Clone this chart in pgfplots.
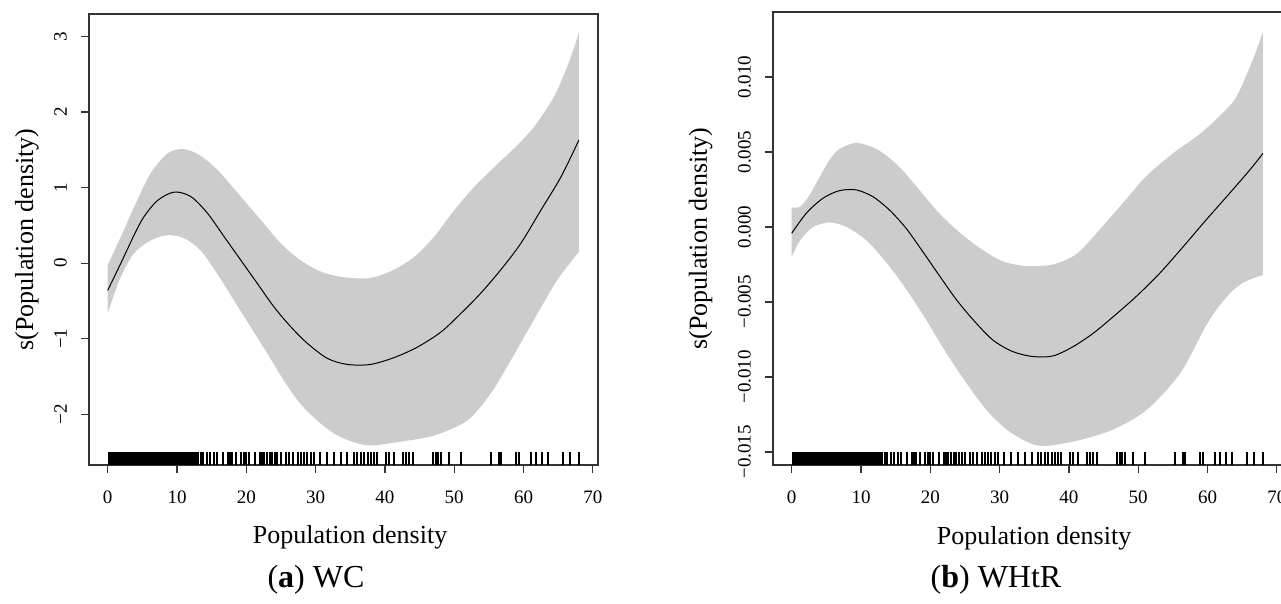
\documentclass[border=0pt]{standalone}
\usepackage{pgfplots}
\pgfplotsset{compat=1.18}
\usepgfplotslibrary{fillbetween}
\usepackage{pgfplotstable}
\usepackage{fontspec}
\setmainfont{Liberation Serif}

\definecolor{band}{RGB}{204,204,204}

% (a) WC: fitted smooth and confidence band
\pgfplotstableread{
x y
0 -0.36
1.9 0.0
3.8 0.37
5.2 0.61
7.2 0.83
9.6 0.94
12.0 0.88
14.4 0.66
16.8 0.35
19.2 0.04
21.6 -0.27
24.0 -0.58
26.4 -0.84
28.8 -1.06
31.7 -1.26
34.6 -1.34
37.9 -1.34
41.3 -1.25
44.7 -1.11
48.1 -0.91
50.9 -0.67
53.8 -0.40
56.7 -0.09
59.6 0.26
62.5 0.70
65.4 1.14
68.0 1.63
}\wcfit
\pgfplotstableread{
x y
0 -0.03
1.9 0.35
3.8 0.74
6.2 1.19
8.6 1.45
10.6 1.51
12.4 1.47
14.3 1.36
16.3 1.19
19.2 0.88
22.1 0.57
25.0 0.26
27.8 0.04
30.7 -0.11
33.6 -0.18
37.5 -0.20
40.8 -0.11
44.2 0.08
47.1 0.35
50.0 0.70
52.9 1.01
56.0 1.29
59.0 1.55
61.5 1.80
64.4 2.20
66.3 2.60
67.3 2.85
68.0 3.05
}\wcup
\pgfplotstableread{
x y
0 -0.66
1.9 -0.18
3.8 0.13
6.2 0.30
8.6 0.37
11.0 0.33
13.4 0.17
15.8 -0.14
18.2 -0.49
20.6 -0.84
23.0 -1.19
25.4 -1.55
27.8 -1.86
30.7 -2.12
33.6 -2.30
37.5 -2.41
42.3 -2.36
47.1 -2.28
51.9 -2.08
55.3 -1.72
58.2 -1.28
61.5 -0.75
64.9 -0.22
68.0 0.15
}\wclo

% (b) WHtR
\pgfplotstableread{
x y
0 -0.00042
2.1 0.00091
4.5 0.00191
6.9 0.00242
9.3 0.00247
11.7 0.00202
14.1 0.00113
16.5 -0.00009
18.9 -0.00164
21.4 -0.00331
23.8 -0.00487
26.2 -0.0062
29.0 -0.00753
31.9 -0.00831
34.8 -0.00864
37.7 -0.0086
40.6 -0.00798
43.5 -0.00709
46.4 -0.00598
49.7 -0.00464
53.1 -0.00309
56.5 -0.00131
59.8 0.00047
63.2 0.00225
66.1 0.0038
68.0 0.0049
}\whfit
\pgfplotstableread{
x y
0 0.00130
1.2 0.00135
2.4 0.0020
4.0 0.0033
5.5 0.0045
6.9 0.0052
9.3 0.0056
12.2 0.0052
15.1 0.0042
18.0 0.0027
20.9 0.0011
23.8 -0.0002
27.1 -0.0014
30.5 -0.0023
33.9 -0.0026
37.7 -0.0025
41.1 -0.0018
44.4 -0.0002
47.8 0.0016
51.2 0.0034
55.0 0.0049
58.9 0.0062
62.2 0.0076
64.2 0.0087
66.5 0.0111
68.0 0.0130
}\whup
\pgfplotstableread{
x y
0 -0.0020
1.2 -0.0009
3.1 0.0000
5.5 0.0003
7.9 0.0000
10.8 -0.0009
13.7 -0.0024
16.6 -0.0042
19.4 -0.0062
22.3 -0.0084
25.2 -0.0104
28.1 -0.0122
31.0 -0.0135
34.3 -0.0144
36.8 -0.0146
41.6 -0.0142
46.4 -0.0135
51.2 -0.0122
56.0 -0.0098
59.4 -0.0069
61.0 -0.0057
62.5 -0.0048
64.0 -0.0041
65.6 -0.0036
68.0 -0.0032
}\whlo

% rug of observed densities (x), with the mid height of the rug in each panel
\pgfplotstableread{
x wc wh
13.4 -2.584 -0.01544
13.8 -2.584 -0.01544
14.3 -2.584 -0.01544
14.8 -2.584 -0.01544
15.3 -2.584 -0.01544
15.8 -2.584 -0.01544
16.7 -2.584 -0.01544
17.3 -2.584 -0.01544
17.6 -2.584 -0.01544
18.0 -2.584 -0.01544
18.5 -2.584 -0.01544
19.2 -2.584 -0.01544
19.7 -2.584 -0.01544
20.0 -2.584 -0.01544
20.4 -2.584 -0.01544
21.3 -2.584 -0.01544
22.0 -2.584 -0.01544
22.3 -2.584 -0.01544
22.6 -2.584 -0.01544
23.0 -2.584 -0.01544
23.4 -2.584 -0.01544
23.7 -2.584 -0.01544
24.1 -2.584 -0.01544
24.5 -2.584 -0.01544
25.0 -2.584 -0.01544
25.7 -2.584 -0.01544
26.2 -2.584 -0.01544
26.7 -2.584 -0.01544
27.4 -2.584 -0.01544
27.9 -2.584 -0.01544
28.3 -2.584 -0.01544
28.8 -2.584 -0.01544
29.4 -2.584 -0.01544
29.8 -2.584 -0.01544
30.7 -2.584 -0.01544
31.7 -2.584 -0.01544
32.7 -2.584 -0.01544
33.6 -2.584 -0.01544
34.6 -2.584 -0.01544
35.6 -2.584 -0.01544
36.0 -2.584 -0.01544
36.5 -2.584 -0.01544
37.0 -2.584 -0.01544
37.5 -2.584 -0.01544
38.0 -2.584 -0.01544
38.4 -2.584 -0.01544
38.9 -2.584 -0.01544
40.1 -2.584 -0.01544
40.6 -2.584 -0.01544
41.3 -2.584 -0.01544
42.6 -2.584 -0.01544
43.0 -2.584 -0.01544
43.5 -2.584 -0.01544
44.0 -2.584 -0.01544
46.9 -2.584 -0.01544
47.4 -2.584 -0.01544
47.7 -2.584 -0.01544
48.1 -2.584 -0.01544
49.3 -2.584 -0.01544
51.0 -2.584 -0.01544
55.3 -2.584 -0.01544
56.5 -2.584 -0.01544
56.8 -2.584 -0.01544
58.9 -2.584 -0.01544
59.4 -2.584 -0.01544
61.1 -2.584 -0.01544
61.8 -2.584 -0.01544
62.6 -2.584 -0.01544
63.5 -2.584 -0.01544
65.7 -2.584 -0.01544
66.7 -2.584 -0.01544
68.0 -2.584 -0.01544
}\rug

\pgfplotsset{gamplot/.style={
  scale only axis, anchor=south west, width=509pt,
  xmin=-2.7, xmax=70.75,
  tick pos=left, tick align=outside,
  major tick length=8pt,
  scaled y ticks=false,
  axis line style={line width=1.2pt, black!80},
  every tick/.style={line width=1.2pt, black!80},
  xtick={0,10,...,70}, xticklabels={0,10,20,30,40,50,60,70},
  tick label style={font=\fontsize{19}{21}\selectfont, inner sep=0pt},
  xticklabel shift=18pt,
  yticklabel style={rotate=90, anchor=south},
  yticklabel shift=14pt,
  label style={font=\fontsize{26}{30}\selectfont},
  xlabel={Population density},
  ylabel={s(Population density)},
  xlabel style={at={(axis description cs:0.513,-0.175)}, anchor=base},
  clip=false,
}}

\begin{document}
\begin{tikzpicture}
\begin{axis}[gamplot, at={(89pt,139pt)}, height=451pt,
  ymin=-2.67, ymax=3.296,
  ytick={-2,-1,0,1,2,3}, yticklabels={−2,−1,0,1,2,3},
  ylabel style={at={(axis description cs:-0.110,0.5)}, anchor=base}]
\addplot[name path=U, draw=none, smooth] table[x=x, y=y] {\wcup};
\addplot[name path=L, draw=none, smooth] table[x=x, y=y] {\wclo};
\addplot[band] fill between[of=U and L];
\addplot[fill=black, draw=none] coordinates {(0,-2.67) (13.2,-2.67) (13.2,-2.498) (0,-2.498)} --cycle;
\addplot[only marks, mark=|, mark size=6.5pt, mark options={line width=2pt, black}] table[x=x, y=wc] {\rug};
\addplot[black, line width=1pt, smooth] table[x=x, y=y] {\wcfit};
\end{axis}

\begin{axis}[gamplot, at={(773pt,139pt)}, height=453pt,
  ymin=-0.01587, ymax=0.01433,
  ytick={-0.015,-0.01,-0.005,0,0.005,0.01},
  yticklabels={−0.015,−0.010,−0.005,0.000,0.005,0.010},
  ylabel style={at={(axis description cs:-0.130,0.5)}, anchor=base}]
\addplot[name path=U2, draw=none, smooth] table[x=x, y=y] {\whup};
\addplot[name path=L2, draw=none, smooth] table[x=x, y=y] {\whlo};
\addplot[band] fill between[of=U2 and L2];
\addplot[fill=black, draw=none] coordinates {(0,-0.01587) (13.1,-0.01587) (13.1,-0.015003) (0,-0.015003)} --cycle;
\addplot[only marks, mark=|, mark size=6.5pt, mark options={line width=2pt, black}] table[x=x, y=wh] {\rug};
\addplot[black, line width=1pt, smooth] table[x=x, y=y] {\whfit};
\end{axis}

\node[anchor=base, font=\fontsize{32}{36}\selectfont] at (316pt,16pt) {(\textbf{a}) WC};
\node[anchor=base, font=\fontsize{32}{36}\selectfont] at (996pt,16pt) {(\textbf{b}) WHtR};

\pgfresetboundingbox
\useasboundingbox (0pt,0pt) rectangle (1281pt,604pt);
\end{tikzpicture}
\end{document}
